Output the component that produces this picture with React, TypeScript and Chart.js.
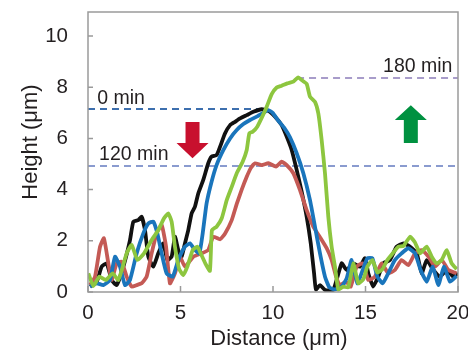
import React, { useEffect, useRef } from "react";
import { Chart, registerables } from "chart.js";

Chart.register(...registerables);

type P = [number, number];

const xTicks = [0, 5, 10, 15, 20];
const yTicks = [0, 2, 4, 6, 8, 10];

const blackSeries: P[] = [
  [0.11, 0.21], [0.47, 0.4], [0.74, 0.99], [1.01, 1.12], [1.28, 0.47], [1.55, 0.27], [1.91, 0.99],
  [2.27, 2.03], [2.45, 2.75], [2.72, 2.81], [2.9, 2.94], [3.08, 2.42], [3.26, 1.38], [3.53, 0.99],
  [3.8, 1.51], [4.07, 1.9], [4.29, 1.25], [4.52, 1.38], [4.7, 2.16], [4.88, 1.64], [5.06, 1.38],
  [5.24, 1.9], [5.42, 2.42], [5.6, 3.07], [5.78, 3.33], [5.96, 3.85], [6.23, 4.38], [6.5, 5.03],
  [6.68, 5.29], [6.95, 5.35], [7.14, 5.68], [7.41, 6.2], [7.68, 6.52], [7.95, 6.65], [8.22, 6.78],
  [8.58, 6.91], [8.94, 7.04], [9.39, 7.14], [9.75, 7.08], [10.11, 6.85], [10.47, 6.52], [10.74, 6.07],
  [11.01, 5.55], [11.28, 4.77], [11.55, 3.92], [11.82, 2.94], [12.04, 1.9], [12.22, 0.73], [12.32, 0.1],
  [12.54, 0.27], [12.81, 0.08], [13.26, 0.08], [13.71, 1.12], [13.98, 0.86], [14.34, 1.12], [14.7, 0.99],
  [14.97, 1.32], [15.15, 0.73], [15.42, 0.21], [15.69, 0.6], [15.96, 1.12], [16.32, 1.25], [16.68, 1.77],
  [17.05, 1.9], [17.41, 1.77], [17.77, 1.51], [18.04, 0.73], [18.31, 1.25], [18.67, 0.86], [19.03, 0.6],
  [19.39, 0.86], [19.75, 0.6], [20.0, 0.73],
];

const blueSeries: P[] = [
  [0.11, 0.21], [0.47, 0.34], [0.83, 0.27], [1.19, 0.47], [1.46, 1.38], [1.73, 0.99], [2.0, 0.27],
  [2.27, 0.47], [2.63, 1.51], [2.99, 2.29], [3.26, 2.68], [3.53, 2.75], [3.75, 2.29], [3.98, 1.51],
  [4.25, 0.73], [4.58, 0.6], [4.88, 1.25], [5.24, 1.77], [5.51, 1.9], [5.78, 1.64], [6.02, 1.51],
  [6.2, 2.29], [6.41, 3.46], [6.68, 4.31], [6.95, 4.96], [7.32, 5.55], [7.68, 6.0], [8.04, 6.33],
  [8.4, 6.56], [8.76, 6.72], [9.12, 6.85], [9.48, 7.0], [9.75, 7.11], [9.98, 7.0], [10.29, 6.69],
  [10.59, 6.43], [10.92, 6.04], [11.28, 5.42], [11.64, 4.64], [12.0, 3.59], [12.27, 2.55], [12.54, 1.51],
  [12.81, 0.6], [13.05, 0.18], [13.35, 0.1], [13.71, 0.21], [13.98, 0.53], [14.25, 1.25], [14.56, 0.34],
  [14.85, 0.86], [15.1, 1.32], [15.37, 1.32], [15.64, 0.6], [15.93, 0.34], [16.23, 0.73], [16.59, 1.25],
  [16.95, 1.51], [17.32, 1.71], [17.68, 1.51], [17.98, 0.86], [18.31, 0.4], [18.63, 0.99], [18.94, 0.27],
  [19.24, 0.99], [19.57, 0.4], [19.93, 0.63],
];

const redSeries: P[] = [
  [0.11, 0.27], [0.38, 0.6], [0.65, 1.77], [0.86, 2.1], [1.1, 1.12], [1.28, 0.47], [1.55, 1.12],
  [1.82, 1.18], [2.09, 0.6], [2.36, 0.21], [2.63, 0.27], [2.9, 0.34], [3.17, 0.6], [3.44, 1.51],
  [3.71, 2.29], [3.98, 2.62], [4.22, 1.77], [4.43, 0.34], [4.7, 0.73], [4.97, 1.38], [5.24, 0.99],
  [5.69, 1.38], [6.14, 1.51], [6.5, 1.64], [6.77, 2.16], [7.14, 2.06], [7.41, 2.29], [7.77, 2.81],
  [8.04, 3.44], [8.3, 3.98], [8.58, 4.5], [8.79, 4.83], [9.03, 5.03], [9.39, 4.96], [9.75, 5.03],
  [10.16, 4.9], [10.47, 5.09], [10.74, 4.96], [11.1, 4.64], [11.46, 3.98], [11.82, 3.2], [12.18, 2.55],
  [12.54, 2.14], [12.9, 1.71], [13.17, 1.25], [13.41, 0.6], [13.62, 0.27], [13.95, 0.4], [14.2, 0.21],
  [14.52, 0.99], [14.85, 1.12], [15.15, 0.47], [15.51, 0.6], [15.87, 1.12], [16.23, 0.73], [16.59, 0.86],
  [16.95, 1.25], [17.32, 1.05], [17.68, 1.51], [18.04, 1.64], [18.4, 1.38], [18.76, 0.99], [19.12, 1.25],
  [19.48, 0.86], [19.93, 0.73],
];

const greenSeries: P[] = [
  [0.02, 0.73], [0.29, 0.23], [0.61, 0.6], [0.97, 0.47], [1.33, 0.73], [1.64, 0.47], [2.09, 1.51],
  [2.36, 1.84], [2.67, 1.25], [3.03, 1.51], [3.44, 2.03], [3.8, 2.42], [4.11, 2.88], [4.34, 3.07],
  [4.52, 2.75], [4.7, 1.77], [4.92, 0.92], [5.15, 0.66], [5.37, 0.99], [5.66, 1.64], [5.91, 1.77],
  [6.09, 1.51], [6.34, 1.12], [6.59, 0.83], [6.7, 2.42], [6.95, 2.55], [7.23, 2.88], [7.5, 3.59],
  [7.77, 4.11], [8.04, 4.64], [8.36, 5.09], [8.58, 5.55], [8.72, 6.2], [8.9, 6.26], [9.15, 6.46],
  [9.42, 6.85], [9.66, 7.24], [9.93, 7.73], [10.2, 7.99], [10.47, 8.06], [10.77, 8.15], [11.1, 8.22],
  [11.37, 8.39], [11.55, 8.28], [11.82, 8.13], [12.0, 7.63], [12.27, 7.43], [12.45, 6.98], [12.63, 5.94],
  [12.81, 4.64], [12.99, 2.94], [13.17, 1.77], [13.35, 0.99], [13.53, 0.1], [13.8, 0.21], [14.07, 0.18],
  [14.34, 1.12], [14.61, 0.34], [14.88, 0.49], [15.1, 0.99], [15.37, 1.25], [15.64, 0.76], [15.91, 0.89],
  [16.18, 1.25], [16.47, 1.51], [16.77, 1.77], [17.05, 1.8], [17.41, 2.16], [17.68, 1.93], [17.95, 1.51],
  [18.31, 1.77], [18.58, 1.38], [18.85, 1.12], [19.12, 1.25], [19.39, 1.64], [19.66, 1.12], [19.93, 0.89],
];

// reference levels
const level0: P[] = [[0, 7.15], [9.5, 7.15]];
const level120: P[] = [[0, 4.92], [20, 4.92]];
const level180: P[] = [[11.3, 8.36], [20, 8.36]];

const levelLabels = [
  { text: "0 min", x: 0.5, y: 7.35 },
  { text: "120 min", x: 0.6, y: 5.15 },
  { text: "180 min", x: 15.95, y: 8.6 },
];

const FONT = '"Liberation Sans", Arial, Helvetica, sans-serif';
const TEXT = "#231f20";

const toXY = (arr: P[]) => arr.map(([x, y]) => ({ x, y }));

const decorPlugin = {
  id: "decor",
  afterDatasetsDraw(chart: any) {
    const { ctx, chartArea: a, scales } = chart;
    const xs = scales.x;
    const ys = scales.y;
    ctx.save();
    // frame
    ctx.strokeStyle = "#9a9a9a";
    ctx.lineWidth = 1.5;
    ctx.strokeRect(a.left, a.top, a.right - a.left, a.bottom - a.top);
    // inner ticks
    ctx.beginPath();
    yTicks.forEach((v) => {
      const py = ys.getPixelForValue(v);
      ctx.moveTo(a.left, py);
      ctx.lineTo(a.left + 5, py);
    });
    xTicks.forEach((v) => {
      const px = xs.getPixelForValue(v);
      ctx.moveTo(px, a.bottom);
      ctx.lineTo(px, a.bottom - 6);
    });
    ctx.stroke();

    // level labels
    ctx.fillStyle = TEXT;
    ctx.font = `19.5px ${FONT}`;
    ctx.textBaseline = "alphabetic";
    ctx.textAlign = "left";
    levelLabels.forEach((l) => {
      ctx.fillText(l.text, xs.getPixelForValue(l.x), ys.getPixelForValue(l.y));
    });

    // arrows
    const drawArrow = (cx: number, yTail: number, yHeadBase: number, yTip: number, color: string) => {
      const px = xs.getPixelForValue(cx);
      const pTail = ys.getPixelForValue(yTail);
      const pBase = ys.getPixelForValue(yHeadBase);
      const pTip = ys.getPixelForValue(yTip);
      const sw = 7;
      const hw = 16;
      ctx.fillStyle = color;
      ctx.beginPath();
      ctx.moveTo(px - sw, pTail);
      ctx.lineTo(px + sw, pTail);
      ctx.lineTo(px + sw, pBase);
      ctx.lineTo(px + hw, pBase);
      ctx.lineTo(px, pTip);
      ctx.lineTo(px - hw, pBase);
      ctx.lineTo(px - sw, pBase);
      ctx.closePath();
      ctx.fill();
    };
    drawArrow(5.65, 6.64, 5.82, 5.23, "#c8102e");
    drawArrow(17.45, 5.82, 6.72, 7.3, "#009140");

    // axis titles
    ctx.fillStyle = TEXT;
    ctx.font = `22px ${FONT}`;
    ctx.textAlign = "center";
    ctx.textBaseline = "middle";
    ctx.fillText("Distance (\u03bcm)", 279, 339);
    ctx.save();
    ctx.translate(31, 142);
    ctx.rotate(-Math.PI / 2);
    ctx.fillText("Height (\u03bcm)", 0, 0);
    ctx.restore();
    ctx.restore();
  },
};

export default function App() {
  const ref = useRef<HTMLCanvasElement | null>(null);
  useEffect(() => {
    if (!ref.current) return;
    const line = (data: P[], color: string, order: number) => ({
      data: toXY(data),
      borderColor: color,
      borderWidth: 3.8,
      pointRadius: 0,
      showLine: true,
      tension: 0.15,
      fill: false,
      order,
    });
    const dash = (data: P[], color: string) => ({
      data: toXY(data),
      borderColor: color,
      borderWidth: 2,
      borderDash: [7, 5],
      pointRadius: 0,
      showLine: true,
      tension: 0,
      fill: false,
      order: 10,
    });
    const chart = new Chart(ref.current, {
      type: "scatter",
      data: {
        datasets: [
          dash(level0, "#3d6fae"),
          dash(level120, "#8a9bcf"),
          dash(level180, "#a89cca"),
          line(blackSeries, "#111111", 5),
          line(redSeries, "#c45a55", 4),
          line(blueSeries, "#1a75bc", 3),
          line(greenSeries, "#8dc63f", 2),
        ] as any,
      },
      options: {
        animation: false,
        responsive: false,
        maintainAspectRatio: false,
        layout: { padding: { top: 12, right: 10, left: 0, bottom: 0 } },
        plugins: { legend: { display: false }, tooltip: { enabled: false } },
        scales: {
          x: {
            type: "linear",
            min: 0,
            max: 20,
            afterBuildTicks: (s: any) => {
              s.ticks = xTicks.map((v) => ({ value: v }));
            },
            afterFit: (s: any) => {
              s.height = 61;
              s.paddingLeft = 0;
              s.paddingRight = 0;
            },
            ticks: { font: { size: 20.5, family: FONT }, color: TEXT, padding: 9, maxRotation: 0, autoSkip: false },
            grid: { display: false, drawTicks: false },
            border: { display: false },
          },
          y: {
            type: "linear",
            min: 0,
            max: 10.94,
            afterBuildTicks: (s: any) => {
              s.ticks = yTicks.map((v) => ({ value: v }));
            },
            afterFit: (s: any) => {
              s.width = 88;
              s.paddingTop = 0;
              s.paddingBottom = 0;
            },
            ticks: { font: { size: 20.5, family: FONT }, color: TEXT, padding: 20, autoSkip: false },
            grid: { display: false, drawTicks: false },
            border: { display: false },
          },
        },
      },
      plugins: [decorPlugin],
    });
    return () => chart.destroy();
  }, []);
  return (
    <div style={{ position: "fixed", left: 0, top: 0, width: 468, height: 353, background: "#fff" }}>
      <canvas ref={ref} width={468} height={353} />
    </div>
  );
}
